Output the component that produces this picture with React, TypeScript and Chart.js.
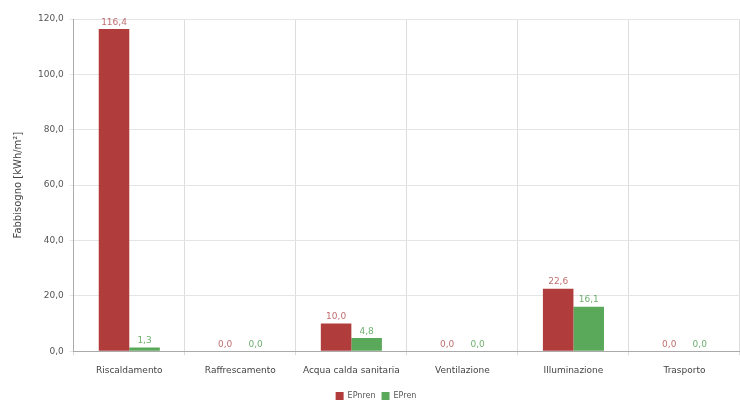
import React, { useEffect, useRef } from "react";
import { Chart, registerables } from "chart.js";

Chart.register(...registerables);

const categories = ["Riscaldamento", "Raffrescamento", "Acqua calda sanitaria", "Ventilazione", "Illuminazione", "Trasporto"];
const epnren = [116.4, 0.0, 10.0, 0.0, 22.6, 0.0];
const epren = [1.3, 0.0, 4.8, 0.0, 16.1, 0.0];
const seriesNames = ["EPnren", "EPren"];
const yTitle = "Fabbisogno [kWh/m²]";

const fmt = (v: number) => v.toFixed(1).replace(".", ",");

const labelPlugin = {
  id: "valueLabels",
  afterDatasetsDraw(chart: any) {
    const ctx = chart.ctx;
    ctx.save();
    ctx.font = "9px 'DejaVu Sans', sans-serif";
    ctx.textAlign = "center";
    ctx.textBaseline = "bottom";
    const colors = ["#c07070", "#70b070"];
    chart.data.datasets.forEach((ds: any, i: number) => {
      const meta = chart.getDatasetMeta(i);
      meta.data.forEach((bar: any, j: number) => {
        ctx.fillStyle = colors[i];
        ctx.fillText(fmt(ds.data[j]), bar.x, bar.y - 2);
      });
    });
    ctx.restore();
  },
};

export default function App() {
  const ref = useRef<HTMLCanvasElement>(null);
  useEffect(() => {
    document.body.style.margin = "0";
    const chart = new Chart(ref.current!, {
      type: "bar",
      data: {
        labels: categories,
        datasets: [
          { label: seriesNames[0], data: epnren, backgroundColor: "#b03c3c", borderWidth: 0 },
          { label: seriesNames[1], data: epren, backgroundColor: "#5aa85a", borderWidth: 0 },
        ],
      },
      options: {
        animation: false,
        responsive: false,
        layout: { padding: { top: 19, right: 0, left: 12, bottom: 0 } },
        datasets: { bar: { barPercentage: 1.0, categoryPercentage: 0.55 } },
        plugins: {
          legend: {
            position: "bottom",
            labels: { boxWidth: 8, boxHeight: 8, font: { size: 8, family: "'DejaVu Sans', sans-serif" }, color: "#555", padding: 6 },
          },
          tooltip: { enabled: false },
        },
        scales: {
          x: {
            grid: { color: "#dddddd", tickLength: 4, offset: true },
            border: { color: "#aaaaaa" },
            ticks: { color: "#444", font: { size: 9, family: "'DejaVu Sans', sans-serif" }, maxRotation: 0, padding: 10 },
          },
          y: {
            min: 0,
            max: 120,
            ticks: { stepSize: 20, color: "#555", font: { size: 9, family: "'DejaVu Sans', sans-serif" }, callback: (v: any) => fmt(Number(v)), padding: 6 },
            grid: { color: "#e5e5e5", tickLength: 4 },
            border: { color: "#aaaaaa" },
            title: { display: true, text: yTitle, color: "#444", font: { size: 10, family: "'DejaVu Sans', sans-serif" }, padding: { top: 0, bottom: 8 } },
          },
        },
      },
      plugins: [labelPlugin],
    });
    return () => chart.destroy();
  }, []);
  return (
    <div style={{ width: 740, height: 410 }}>
      <canvas ref={ref} width={740} height={410} />
    </div>
  );
}
